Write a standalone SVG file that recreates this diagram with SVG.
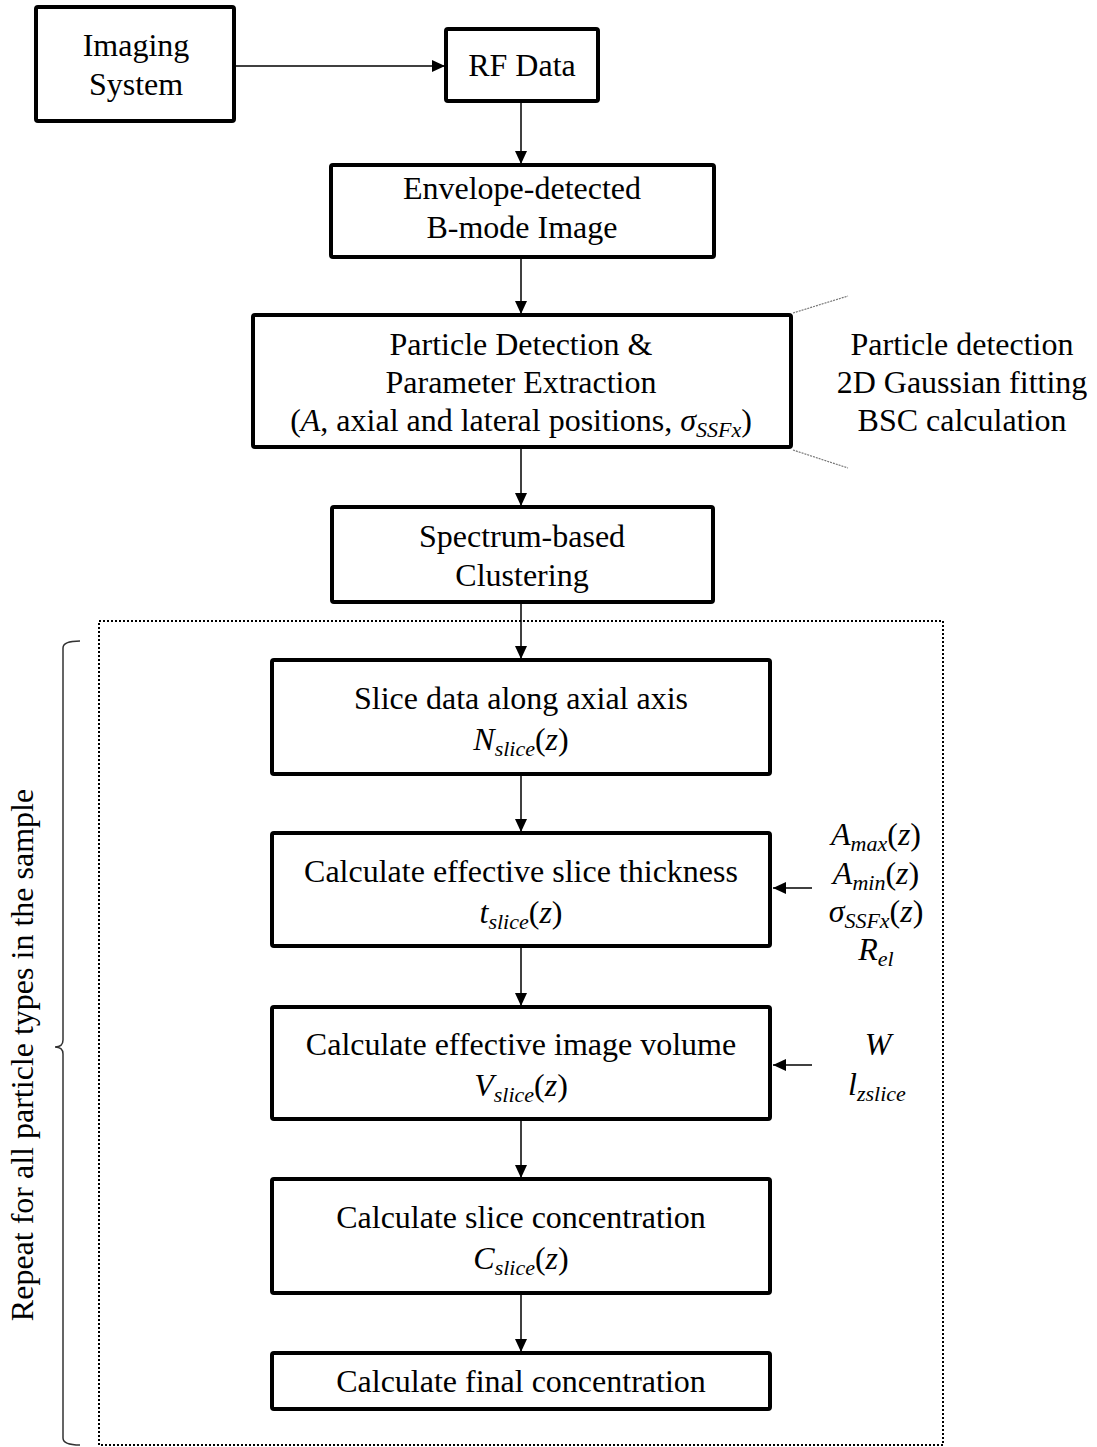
<svg xmlns="http://www.w3.org/2000/svg" width="1097" height="1447" viewBox="0 0 1097 1447">
<style>
text{font-family:"Liberation Serif","Times New Roman",serif;font-size:32px;fill:#000}
.box{fill:#fff;stroke:#000;stroke-width:4}
.c{stroke:#000;stroke-width:1.5;fill:none}
.i{font-style:italic}
.s{font-size:22px;font-style:italic}
.ann{stroke:#777;stroke-width:1.2;stroke-dasharray:2 1;fill:none}
</style>
<defs>
<marker id="ah" markerUnits="userSpaceOnUse" markerWidth="14" markerHeight="14" refX="13" refY="6" orient="auto">
<path d="M0,0 L13,6 L0,12 z" fill="#000"/>
</marker>
</defs>
<rect x="0" y="0" width="1097" height="1447" fill="#fff"/>
<g id="repeat-frame">
<rect x="99" y="621" width="844" height="824" fill="none" stroke="#000" stroke-width="2" stroke-dasharray="2 2"/>
<path d="M80,641 Q63,641 63,648 L63,1040 Q63,1047 55,1047 Q63,1047 63,1054 L63,1438 Q63,1445 80,1445" fill="none" stroke="#333" stroke-width="1.5"/>
<text transform="translate(33,1055) rotate(-90)" text-anchor="middle">Repeat for all particle types in the sample</text>
</g>
<g id="connectors">
<line class="c" x1="235" y1="66" x2="445" y2="66" marker-end="url(#ah)"/>
<line class="c" x1="521" y1="102" x2="521" y2="164" marker-end="url(#ah)"/>
<line class="c" x1="521" y1="258" x2="521" y2="314" marker-end="url(#ah)"/>
<line class="c" x1="521" y1="448" x2="521" y2="506" marker-end="url(#ah)"/>
<line class="c" x1="521" y1="603" x2="521" y2="659" marker-end="url(#ah)"/>
<line class="c" x1="521" y1="775" x2="521" y2="832" marker-end="url(#ah)"/>
<line class="c" x1="521" y1="947" x2="521" y2="1006" marker-end="url(#ah)"/>
<line class="c" x1="521" y1="1120" x2="521" y2="1178" marker-end="url(#ah)"/>
<line class="c" x1="521" y1="1294" x2="521" y2="1352" marker-end="url(#ah)"/>
<line class="c" x1="812" y1="888" x2="773" y2="888" marker-end="url(#ah)"/>
<line class="c" x1="812" y1="1065" x2="773" y2="1065" marker-end="url(#ah)"/>
<line class="ann" x1="793" y1="313" x2="848" y2="296"/>
<line class="ann" x1="793" y1="450" x2="848" y2="468"/>
</g>
<g id="imaging-system">
<rect class="box" x="36" y="7" width="198" height="114" rx="2"/>
<text x="136" y="56" text-anchor="middle">Imaging</text>
<text x="136" y="95" text-anchor="middle">System</text>
</g>
<g id="rf-data">
<rect class="box" x="446" y="29" width="152" height="72" rx="2"/>
<text x="522" y="76" text-anchor="middle">RF Data</text>
</g>
<g id="envelope">
<rect class="box" x="331" y="165" width="383" height="92" rx="2"/>
<text x="522" y="199" text-anchor="middle">Envelope-detected</text>
<text x="522" y="238" text-anchor="middle">B-mode Image</text>
</g>
<g id="particle-detection">
<rect class="box" x="253" y="315" width="538" height="132" rx="2"/>
<text x="521" y="355" text-anchor="middle">Particle Detection &amp;</text>
<text x="521" y="393" text-anchor="middle">Parameter Extraction</text>
<text x="521" y="431" text-anchor="middle">(<tspan class="i">A</tspan>, axial and lateral positions, <tspan class="i">σ</tspan><tspan class="s" dy="6">SSFx</tspan><tspan dy="-6">)</tspan></text>
</g>
<g id="particle-notes">
<text x="962" y="355" text-anchor="middle">Particle detection</text>
<text x="962" y="393" text-anchor="middle">2D Gaussian fitting</text>
<text x="962" y="431" text-anchor="middle">BSC calculation</text>
</g>
<g id="clustering">
<rect class="box" x="332" y="507" width="381" height="95" rx="2"/>
<text x="522" y="547" text-anchor="middle">Spectrum-based</text>
<text x="522" y="586" text-anchor="middle">Clustering</text>
</g>
<g id="slice-data">
<rect class="box" x="272" y="660" width="498" height="114" rx="2"/>
<text x="521" y="709" text-anchor="middle">Slice data along axial axis</text>
<text x="521" y="750" text-anchor="middle"><tspan class="i">N</tspan><tspan class="s" dy="6">slice</tspan><tspan dy="-6">(</tspan><tspan class="i">z</tspan>)</text>
</g>
<g id="slice-thickness">
<rect class="box" x="272" y="833" width="498" height="113" rx="2"/>
<text x="521" y="882" text-anchor="middle">Calculate effective slice thickness</text>
<text x="521" y="923" text-anchor="middle"><tspan class="i">t</tspan><tspan class="s" dy="6">slice</tspan><tspan dy="-6">(</tspan><tspan class="i">z</tspan>)</text>
</g>
<g id="thickness-inputs">
<text x="876" y="845" text-anchor="middle"><tspan class="i">A</tspan><tspan class="s" dy="6">max</tspan><tspan dy="-6">(</tspan><tspan class="i">z</tspan>)</text>
<text x="876" y="884" text-anchor="middle"><tspan class="i">A</tspan><tspan class="s" dy="6">min</tspan><tspan dy="-6">(</tspan><tspan class="i">z</tspan>)</text>
<text x="876" y="922" text-anchor="middle"><tspan class="i">σ</tspan><tspan class="s" dy="6">SSFx</tspan><tspan dy="-6">(</tspan><tspan class="i">z</tspan>)</text>
<text x="876" y="960" text-anchor="middle"><tspan class="i">R</tspan><tspan class="s" dy="6">el</tspan></text>
</g>
<g id="image-volume">
<rect class="box" x="272" y="1007" width="498" height="112" rx="2"/>
<text x="521" y="1055" text-anchor="middle">Calculate effective image volume</text>
<text x="521" y="1096" text-anchor="middle"><tspan class="i">V</tspan><tspan class="s" dy="6">slice</tspan><tspan dy="-6">(</tspan><tspan class="i">z</tspan>)</text>
</g>
<g id="volume-inputs">
<text x="878" y="1055" text-anchor="middle" class="i">W</text>
<text x="877" y="1095" text-anchor="middle"><tspan class="i">l</tspan><tspan class="s" dy="6">zslice</tspan></text>
</g>
<g id="slice-concentration">
<rect class="box" x="272" y="1179" width="498" height="114" rx="2"/>
<text x="521" y="1228" text-anchor="middle">Calculate slice concentration</text>
<text x="521" y="1269" text-anchor="middle"><tspan class="i">C</tspan><tspan class="s" dy="6">slice</tspan><tspan dy="-6">(</tspan><tspan class="i">z</tspan>)</text>
</g>
<g id="final-concentration">
<rect class="box" x="272" y="1353" width="498" height="56" rx="2"/>
<text x="521" y="1392" text-anchor="middle">Calculate final concentration</text>
</g>
</svg>
